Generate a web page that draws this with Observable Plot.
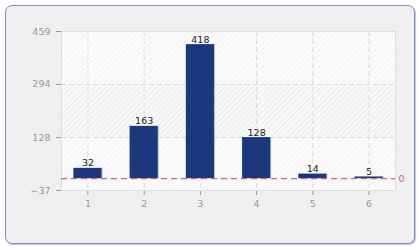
<!DOCTYPE html>
<html><head><meta charset="utf-8">
<script src="https://cdn.jsdelivr.net/npm/d3@7"></script>
<script src="https://cdn.jsdelivr.net/npm/@observablehq/plot@0.6"></script>
<style>
html,body{margin:0;padding:0;background:#fff;}
#wrap{position:relative;width:420px;height:250px;overflow:hidden;}
#panel{position:absolute;left:5px;top:5px;width:408px;height:237px;border:1px solid #7f8fba;border-radius:7px;background:#efefef;box-shadow:1px 1px 1px #b8c0d8;}
#wrap svg{position:absolute;left:0;top:0;}
</style>
</head><body>
<div id="wrap"><div id="panel"></div></div>
<script>
const categories = [1, 2, 3, 4, 5, 6];
const values = [32, 163, 418, 128, 14, 5];
const yTicks = [-37, 128, 294, 459];
const refValue = 0;

const data = categories.map((c, i) => ({cat: c, val: values[i]}));
const bands = yTicks.slice(0, -1).map((lo, i) => ({lo, hi: yTicks[i + 1], i}));
const lightBands = bands.filter(b => b.i % 2 === 0);
const darkBands = bands.filter(b => b.i % 2 === 1);

function defs() {
  const ns = "http://www.w3.org/2000/svg";
  const d = document.createElementNS(ns, "defs");
  d.innerHTML = `
  <pattern id="hatchLight" patternUnits="userSpaceOnUse" width="4" height="4" patternTransform="rotate(45)">
    <rect width="4" height="4" fill="#fbfbfb"/><line x1="0" y1="0" x2="0" y2="4" stroke="#f1f1f1" stroke-width="1.5"/>
  </pattern>
  <pattern id="hatchDark" patternUnits="userSpaceOnUse" width="4" height="4" patternTransform="rotate(45)">
    <rect width="4" height="4" fill="#f8f8f8"/><line x1="0" y1="0" x2="0" y2="4" stroke="#e9e9e9" stroke-width="1.5"/>
  </pattern>`;
  return d;
}

const chart = Plot.plot({
  width: 420, height: 250,
  marginLeft: 61, marginRight: 25, marginTop: 31, marginBottom: 60,
  style: {background: "transparent", fontFamily: "DejaVu Sans", fontSize: "9.5px", color: "#9a9a9a"},
  x: {type: "band", domain: categories, paddingInner: 0.5, paddingOuter: 0.22, round: false, label: null, tickSize: 5, tickPadding: 5, line: true},
  y: {domain: [-37, 459], ticks: yTicks, label: null, tickSize: 5, tickPadding: 6, line: true},
  marks: [
    defs,
    Plot.rect(lightBands, {y1: "lo", y2: "hi", fill: "url(#hatchLight)"}),
    Plot.rect(darkBands, {y1: "lo", y2: "hi", fill: "url(#hatchDark)"}),
    Plot.frame({stroke: "#dedede"}),
    Plot.gridX(categories, {stroke: "#dcdcdc", strokeOpacity: 1, strokeDasharray: "5,3"}),
    Plot.gridY(yTicks.slice(1, -1), {stroke: "#dcdcdc", strokeOpacity: 1, strokeDasharray: "5,3"}),
    Plot.barY(data, {x: "cat", y: "val", fill: "#b4b6bc", dx: 1}),
    Plot.barY(data, {x: "cat", y: "val", fill: "#1b387f"}),
    Plot.ruleY([refValue], {stroke: "#c46b78", strokeDasharray: "6,4", strokeWidth: 1.2}),
    Plot.text([refValue], {y: d => d, text: d => String(d), frameAnchor: "right", dx: 3, textAnchor: "start", fill: "#c46b78"}),
    Plot.text(data, {x: "cat", y: "val", text: d => String(d.val), dy: -2, lineAnchor: "bottom", fill: "#222"})
  ]
});
document.getElementById("wrap").appendChild(chart);
</script>
</body></html>
